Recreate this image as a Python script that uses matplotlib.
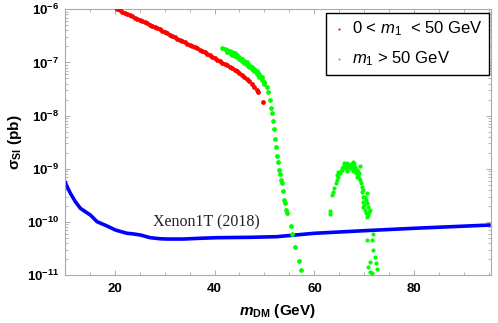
import numpy as np
import matplotlib
matplotlib.use('Agg')
import matplotlib.pyplot as plt
from matplotlib.ticker import MultipleLocator, LogLocator, NullFormatter

plt.rcParams.update({
    'font.family': ['Liberation Sans', 'DejaVu Sans'],
    'mathtext.fontset': 'custom',
    'mathtext.rm': 'Liberation Sans',
    'mathtext.it': 'Liberation Sans:italic',
    'mathtext.bf': 'Liberation Sans:bold',
    'mathtext.bfit': 'Liberation Sans:italic:bold',
    'mathtext.sf': 'Liberation Sans',
    'mathtext.default': 'bf',
})

# ---------------- data (m_DM in GeV, log10 sigma_SI in pb) ----------------
red_m = [20.5, 21.0, 21.5, 22.0, 22.5, 23.0, 23.5, 24.0, 24.5, 25.0, 25.5, 26.0,
         26.5, 27.0, 27.5, 28.0, 28.5, 29.0, 29.5, 30.0, 30.5, 31.0, 31.5, 32.0,
         32.5, 33.0, 33.5, 34.0, 34.5, 35.0, 35.5, 36.0, 36.5, 37.0, 37.5, 38.0,
         38.5, 39.0, 39.5, 40.0, 40.5, 41.0, 41.5, 42.0, 42.5, 43.0, 43.5, 44.0,
         44.5, 45.0, 45.5, 46.0, 46.5, 47.0, 47.5, 48.0, 48.5, 48.8, 49.8]
red_logsig = [-6.00, -6.02, -6.045, -6.07, -6.09, -6.11, -6.135, -6.155, -6.18, -6.20,
              -6.22, -6.245, -6.265, -6.29, -6.31, -6.335, -6.36, -6.38, -6.405, -6.43,
              -6.45, -6.475, -6.50, -6.525, -6.55, -6.57, -6.595, -6.62, -6.645, -6.665,
              -6.69, -6.71, -6.735, -6.76, -6.785, -6.81, -6.84, -6.865, -6.895, -6.92,
              -6.95, -6.98, -7.005, -7.03, -7.055, -7.08, -7.11, -7.135, -7.165, -7.195,
              -7.23, -7.27, -7.31, -7.355, -7.40, -7.455, -7.51, -7.55, -7.74]

green_band_m = [41.5, 42.0, 42.5, 43.0, 43.5, 44.0, 44.5, 45.0, 45.5, 46.0, 46.5, 47.0,
                47.5, 48.0, 48.5, 49.0, 49.5, 50.0, 50.5, 50.8, 51.1, 51.3, 51.5, 51.7,
                51.9, 52.1, 52.35, 52.6, 52.8, 53.0, 53.15, 53.35, 53.5, 53.8, 54.0,
                54.15, 54.35, 54.6, 55.3, 55.6, 56.15, 56.95, 57.3]
green_band_logsig = [-6.73, -6.75, -6.77, -6.79, -6.81, -6.83, -6.86, -6.89, -6.93, -6.965,
                     -7.00, -7.04, -7.08, -7.12, -7.165, -7.21, -7.275, -7.36, -7.46, -7.56,
                     -7.70, -7.85, -7.96, -8.11, -8.25, -8.45, -8.59, -8.77, -8.87, -9.02,
                     -9.09, -9.21, -9.27, -9.42, -9.59, -9.65, -9.78, -9.83, -10.08, -10.22,
                     -10.47, -10.74, -10.91]
green_lower_m = [42.5, 43.0, 43.5, 44.0, 44.5, 45.0, 45.5, 46.0, 46.5, 47.0, 47.5, 48.0,
                 48.5, 49.0, 49.5, 50.0]
green_lower_logsig = [-6.81, -6.83, -6.855, -6.875, -6.905, -6.94, -6.975, -7.015, -7.05,
                      -7.09, -7.13, -7.17, -7.215, -7.265, -7.33, -7.41]

green_bump_m = [63.14, 63.14, 63.6, 63.8, 64.0, 64.28, 64.48, 64.48, 64.68, 64.8, 65.0, 65.14,
                65.28, 65.48, 65.6, 65.8, 66.0, 66.0, 66.14, 66.34, 66.48, 66.48, 66.8, 66.8,
                67.14, 67.14, 67.34, 67.48, 67.68, 67.68, 67.8, 67.8, 67.94, 68.14, 68.14,
                68.34, 68.48, 68.6, 68.6, 68.8, 68.8, 69.0, 69.0, 69.14, 69.14, 69.28, 69.48,
                69.48, 69.68, 69.8, 69.8, 69.8, 69.94, 70.14, 70.14, 70.34, 70.34, 70.48,
                70.48, 70.6, 70.8, 70.8, 71.0, 71.14, 70.48, 71.48, 71.68, 71.8, 72.14, 72.34,
                72.48, 71.14, 70.8, 71.14, 71.48]
green_bump_logsig = [-9.796, -9.852, -9.495, -9.432, -9.368, -9.274, -9.212, -9.118, -9.150,
                     -9.056, -9.086, -9.075, -9.037, -9.024, -8.992, -8.973, -8.949, -8.898,
                     -8.930, -8.992, -9.037, -8.898, -8.930, -8.962, -8.992, -8.930, -8.911,
                     -8.992, -8.868, -9.037, -8.962, -8.930, -8.887, -9.011, -8.973, -9.086,
                     -9.024, -9.037, -9.150, -9.118, -9.056, -9.180, -9.086, -8.949, -9.212,
                     -9.274, -9.432, -9.338, -9.526, -9.621, -9.400, -9.715, -9.683, -9.777,
                     -9.526, -9.839, -9.588, -9.903, -9.651, -9.463, -9.715, -9.871, -9.809,
                     -9.777, -10.341, -10.341, -10.234, -10.530, -10.656, -10.780, -10.893,
                     -10.750, -10.844, -10.938, -10.968]

xenon_m = [10.0, 10.48, 11.14, 12.14, 13.14, 14.14, 15.14, 16.14, 16.48, 18.48, 20.14,
           22.48, 23.8, 25.14, 27.14, 29.14, 30.48, 33.8, 37.14, 40.48, 47.14, 52.48,
           60.0, 70.0, 80.0, 95.3]
xenon_logsig = [-9.23, -9.338, -9.463, -9.621, -9.745, -9.809, -9.871, -9.965, -9.997,
                -10.078, -10.153, -10.215, -10.228, -10.247, -10.298, -10.318, -10.323,
                -10.323, -10.309, -10.298, -10.291, -10.279, -10.215, -10.166, -10.121,
                -10.059]

legend_labels = [r'0 < $\mathit{m}_{\mathrm{1}}$  < 50 GeV', r'$\mathit{m}_{\mathrm{1}}$ > 50 GeV']
xenon_label = 'Xenon1T (2018)'

# ---------------- figure ----------------
fig = plt.figure(figsize=(4.98, 3.23), dpi=100)
ax = fig.add_axes([64.7 / 498, 48 / 323, 426 / 498, 265.7 / 323])

ax.set_yscale('log')
ax.set_xlim(10, 95.3)
ax.set_ylim(1e-11, 1e-6)

ax.plot(xenon_m, 10 ** np.array(xenon_logsig), color='#0000ff', lw=2.6,
        solid_capstyle='butt', zorder=2)

h1 = ax.scatter(red_m, 10 ** np.array(red_logsig), s=12, c='#ff0000', marker='o',
                linewidths=0, zorder=3)
h2 = ax.scatter(green_band_m, 10 ** np.array(green_band_logsig), s=12, c='#00ff00',
                marker='o', linewidths=0, zorder=3)
ax.scatter(green_lower_m, 10 ** np.array(green_lower_logsig), s=12, c='#00ff00',
           marker='o', linewidths=0, zorder=3)
ax.scatter(green_bump_m, 10 ** np.array(green_bump_logsig), s=9, c='#00ff00',
           marker='o', linewidths=0, zorder=3)

ax.text(27.7, 10 ** -10.078, xenon_label, family=['Liberation Serif'], fontsize=11.5,
        color='#222222', ha='left', va='baseline')

# axes styling
for sp in ax.spines.values():
    sp.set_color('#aaaaaa')
    sp.set_linewidth(0.8)
ax.xaxis.set_major_locator(MultipleLocator(20))
ax.xaxis.set_minor_locator(MultipleLocator(5))
ax.yaxis.set_major_locator(LogLocator(base=10, numticks=20))
ax.yaxis.set_minor_locator(LogLocator(base=10, subs=np.arange(2, 10), numticks=20))
ax.yaxis.set_minor_formatter(NullFormatter())
ax.tick_params(which='both', direction='in', top=True, right=True, color='#aaaaaa',
               labelsize=9.5)
ax.tick_params(which='major', length=3.5, width=0.7)
ax.tick_params(which='minor', length=2, width=0.6)
ax.tick_params(axis='x', which='both', pad=6)
ax.tick_params(axis='y', which='both', pad=4)
for lab in ax.get_xticklabels() + ax.get_yticklabels():
    lab.set_fontweight('bold')

ax.set_xlabel(r'$\mathbfit{m}_{\mathbf{DM}}$ (GeV)', fontsize=11, fontweight='bold',
              labelpad=5)
ax.set_ylabel(r'σ$_{\mathbf{SI}}$ (pb)', fontsize=11, fontweight='bold', labelpad=2)

leg = ax.legend([h1, h2], legend_labels, loc='upper right',
                bbox_to_anchor=(1 - 1.4 / 426, 1 - 3.7 / 265.7), borderaxespad=0,
                fontsize=12, frameon=True, fancybox=False, framealpha=1,
                edgecolor='black', markerscale=0.45, handlelength=0.8,
                handletextpad=0.35, borderpad=0.4, labelspacing=0.65)
leg.get_frame().set_linewidth(1.0)

fig.savefig('out.png', dpi=100)
